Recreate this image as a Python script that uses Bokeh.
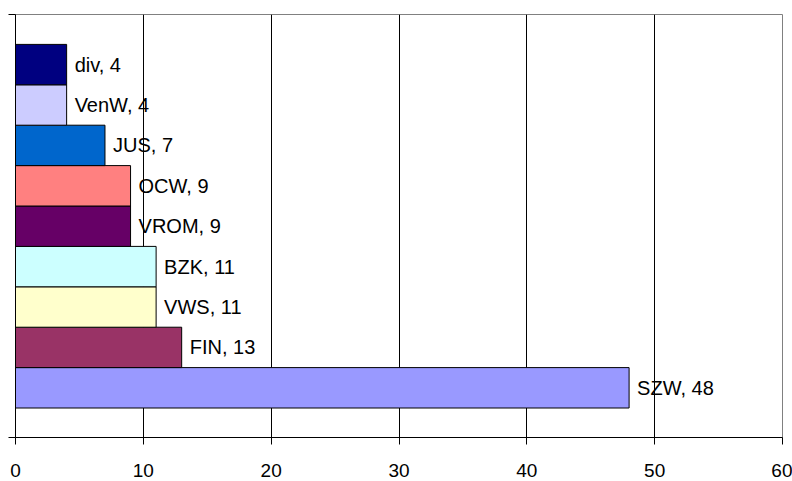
from bokeh.plotting import figure
from bokeh.models import Range1d, FixedTicker, ColumnDataSource, CustomJSTickFormatter
from bokeh.core.properties import value
from bokeh.embed import file_html
from bokeh.resources import INLINE

# Data (bottom to top)
names = ["SZW", "FIN", "VWS", "BZK", "VROM", "OCW", "JUS", "VenW", "div"]
values = [48, 13, 11, 11, 9, 9, 7, 4, 4]
colors = ["#9999FF", "#993366", "#FFFFCC", "#CCFFFF", "#660066",
          "#FF8080", "#0066CC", "#CCCCFF", "#000080"]
x_ticks = [0, 10, 20, 30, 40, 50, 60]

pos = list(range(len(names)))
labels = [f"{n}, {v}" for n, v in zip(names, values)]
src = ColumnDataSource(dict(pos=pos, value=values, color=colors, label=labels))

y0, y1 = -1.23, len(names) - 0.5 + 0.74

p = figure(width=792, height=481, x_range=Range1d(0, 60), y_range=Range1d(y0, y1),
           output_backend="svg", toolbar_location=None,
           min_border_left=15, min_border_right=10, min_border_top=14, min_border_bottom=44)
p.background_fill_color = "white"
p.border_fill_color = "white"
p.outline_line_color = "#808080"

p.hbar(y="pos", left=0, right="value", height=1, fill_color="color",
       line_color="black", line_width=1, source=src)
p.text(x="value", y="pos", text="label", x_offset=8, text_baseline="middle",
       text_align="left", text_font=value("Liberation Sans"), text_font_size="20px",
       text_color="black", source=src)

xa = p.xaxis[0]
xa.ticker = FixedTicker(ticks=x_ticks)
xa.major_tick_out = 7
xa.major_tick_in = 0
xa.minor_tick_out = 0
xa.minor_tick_in = 0
xa.axis_line_color = "black"
xa.major_tick_line_color = "black"
xa.major_label_text_font = "Liberation Sans"
xa.major_label_text_font_size = "19px"
xa.major_label_text_color = "black"
xa.major_label_standoff = 19

ya = p.yaxis[0]
ya.ticker = FixedTicker(ticks=[y0, y1])
ya.formatter = CustomJSTickFormatter(code="return ''")
ya.major_tick_out = 7
ya.major_tick_in = 0
ya.minor_tick_out = 0
ya.minor_tick_in = 0
ya.axis_line_color = "black"
ya.major_tick_line_color = "black"
ya.major_label_standoff = 0

p.xgrid.ticker = FixedTicker(ticks=x_ticks)
p.xgrid.grid_line_color = "black"
p.ygrid.grid_line_color = None

open("out.html", "w").write(file_html(p, INLINE))
